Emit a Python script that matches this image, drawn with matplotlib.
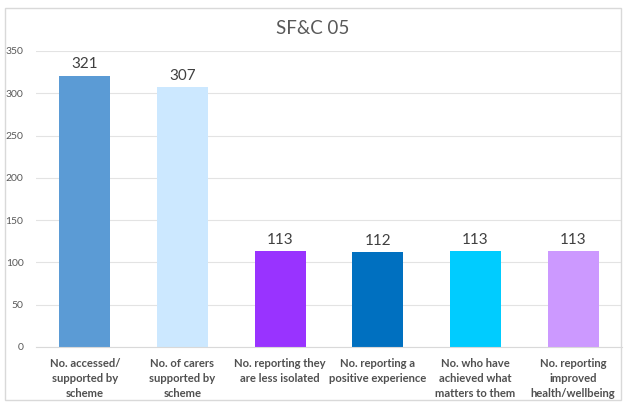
import matplotlib
matplotlib.use('Agg')
import matplotlib.pyplot as plt
from matplotlib.patches import Rectangle

title = 'SF&C 05'
categories = ['No. accessed/\nsupported by\nscheme',
              'No. of carers\nsupported by\nscheme',
              'No. reporting they\nare less isolated',
              'No. reporting a\npositive experience',
              'No. who have\nachieved what\nmatters to them',
              'No. reporting\nimproved\nhealth/wellbeing']
values = [321, 307, 113, 112, 113, 113]
colours = ['#5B9BD5', '#CCE8FF', '#9933FF', '#0070C0', '#00CCFF', '#CC99FF']
yticks = [0, 50, 100, 150, 200, 250, 300, 350]

plt.rcParams['font.family'] = ['Lato', 'DejaVu Sans']

W, H = 626, 403
fig = plt.figure(figsize=(W / 100, H / 100), dpi=100)
fig.patch.set_facecolor('white')

# chart border
fig.add_artist(Rectangle((5 / W, 3 / H), 616 / W, 392 / H, transform=fig.transFigure,
                         fill=False, edgecolor='#D9D9D9', linewidth=1))

ax = fig.add_axes([36 / W, (H - 347) / H, 586 / W, 296 / H])
x = range(len(values))
bars = ax.bar(x, values, width=0.52, color=colours)

ax.set_xlim(-0.5, len(values) - 0.5)
ax.set_ylim(0, 350)
ax.set_yticks(yticks)
ax.set_yticklabels([str(t) for t in yticks], fontsize=7.5, color='#595959')
ax.set_xticks(list(x))
ax.set_xticklabels(categories, fontsize=8.1, color='#505050', fontweight='bold', linespacing=1.45)
ax.tick_params(axis='both', length=0)
ax.tick_params(axis='x', pad=8)
ax.tick_params(axis='y', pad=9)

ax.grid(axis='y', color='#E3E3E3', linewidth=0.8)
ax.set_axisbelow(True)
for s in ['top', 'right', 'left']:
    ax.spines[s].set_visible(False)
ax.spines['bottom'].set_color('#D9D9D9')

for b, v in zip(bars, values):
    ax.text(b.get_x() + b.get_width() / 2, v + 5, str(v), ha='center', va='bottom',
            fontsize=11, color='#404040')

fig.text(313 / W, (H - 28) / H, title, ha='center', va='center', fontsize=13.5, color='#595959')

fig.savefig('out.png', dpi=100)
